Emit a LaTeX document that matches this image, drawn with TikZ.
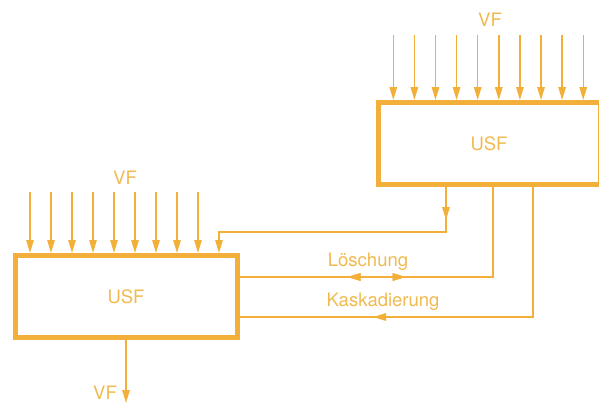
\documentclass[tikz,border=0pt]{standalone}
\usepackage{fontspec}
\setmainfont{TeX Gyre Heros}
\usetikzlibrary{arrows.meta,decorations.markings}
\definecolor{usforange}{RGB}{242,176,58}
\definecolor{usftext}{RGB}{240,186,80}
\begin{document}
\begin{tikzpicture}[
            x=1pt, y=-1pt,
            every node/.style={font=\fontsize{18.5}{21}\selectfont, text=usftext},
            usfbox/.style={
                rectangle,
                draw=usforange,
                line width=5pt,
                minimum width=222pt,
                minimum height=82pt,
                inner sep=0pt
            },
            line/.style={
                draw=usforange,
                line width=1.4pt
            },
            arrow/.style={
                line,
                -{Triangle[length=13pt,width=7.5pt]}
            },
            midtip/.style={
                postaction={decorate},
                decoration={markings,
                    mark=at position #1 with {\arrow[usforange]{Triangle[length=13pt,width=7.5pt]}}}
            },
            midback/.style={
                postaction={decorate},
                decoration={markings,
                    mark=at position #1 with {\arrowreversed[usforange]{Triangle[length=13pt,width=7.5pt]}}}
            }
        ]
            \useasboundingbox (0,0) rectangle (599,405);

            % Boxes
            \node[usfbox] (usf2) at (489,143.5) {USF};
            \node[usfbox] (usf1) at (126,296.5) {USF};

            % Inputs
            \node (vf2) at (490,20) {VF};
            \node (vf1) at (125,178) {VF};
            \foreach \i in {0,...,9}
                \coordinate (in2-\i) at (393.3+21.1*\i,35);
            \foreach \i in {0,...,8}
                \coordinate (in1-\i) at (30+21*\i,192);
            \foreach \i in {0,...,9}
                \draw[arrow] (in2-\i) -- (in2-\i |- usf2.north);
            \foreach \i in {0,...,8}
                \draw[arrow] (in1-\i) -- (in1-\i |- usf1.north);

            % Output
            \coordinate (out1) at (126,403);
            \node (vfout) at (105,393) {VF};
            \draw[arrow] (usf1.south) -- (out1);

            % Turning points
            \coordinate (feedturn) at (446,232);
            \coordinate (feedin) at (219,232);
            \coordinate (loeschturn) at (493,277);
            \coordinate (kaskturn) at (533,317);

            % Connections
            \draw[arrow, midtip=33pt] (usf2.south -| feedturn) -- (feedturn) -- (feedin) -- (feedin |- usf1.north);
            \draw[line, midback=108pt, midtip=166pt] (usf1.east |- loeschturn) -- (loeschturn) -- (usf2.south -| loeschturn);
            \draw[line, midtip=290pt] (usf2.south -| kaskturn) -- (kaskturn) -- (usf1.east |- kaskturn);

            % Labels
            \node (loesch) at (368,262) {Löschung};
            \node (kask) at (383,302) {Kaskadierung};
        \end{tikzpicture}
\end{document}
